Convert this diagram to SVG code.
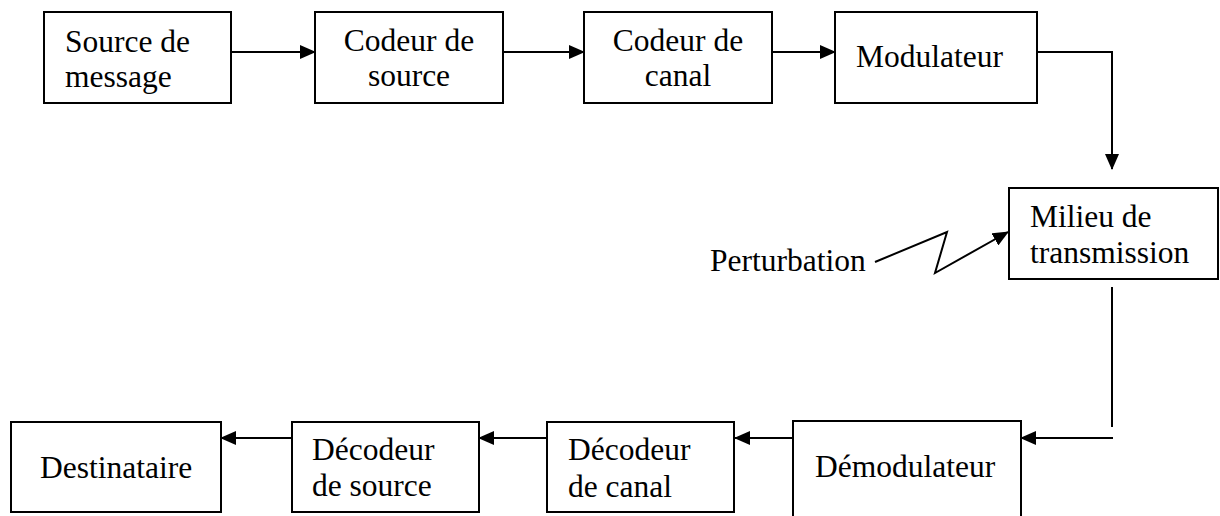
<svg xmlns="http://www.w3.org/2000/svg" width="1220" height="516" viewBox="0 0 1220 516">
<style>
.box{fill:#fff;stroke:#000;stroke-width:2}
.t{font-family:'Liberation Serif','Times New Roman','DejaVu Serif',serif;font-size:31.5px;fill:#000}
.c{text-anchor:middle}
.ln{fill:none;stroke:#000;stroke-width:2}
</style>
<defs>
<marker id="ah" markerWidth="16" markerHeight="14" refX="15" refY="7" orient="auto" markerUnits="userSpaceOnUse">
<path d="M0,0 L16,7 L0,14 Z" fill="#000"/>
</marker>
</defs>
<rect width="1220" height="516" fill="#fff"/>
<g id="connectors">
<line class="ln" x1="231" y1="52" x2="315" y2="52" marker-end="url(#ah)"/>
<line class="ln" x1="503" y1="52" x2="584" y2="52" marker-end="url(#ah)"/>
<line class="ln" x1="772" y1="52" x2="835" y2="52" marker-end="url(#ah)"/>
<polyline class="ln" points="1037,52 1112,52 1112,169" marker-end="url(#ah)"/>
<polyline class="ln" points="875,262 947,232 935,273 1008,232" marker-end="url(#ah)"/>
<line class="ln" x1="1112" y1="287" x2="1112" y2="427"/>
<line class="ln" x1="1113" y1="438" x2="1021" y2="438" marker-end="url(#ah)"/>
<line class="ln" x1="793" y1="438" x2="735" y2="438" marker-end="url(#ah)"/>
<line class="ln" x1="547" y1="438" x2="479" y2="438" marker-end="url(#ah)"/>
<line class="ln" x1="292" y1="438" x2="221" y2="438" marker-end="url(#ah)"/>
</g>
<g id="source-message">
<rect class="box" x="44" y="12" width="187" height="91"/>
<text class="t" x="65" y="52">Source de</text>
<text class="t" x="65" y="87">message</text>
</g>
<g id="codeur-source">
<rect class="box" x="315" y="12" width="188" height="91"/>
<text class="t c" x="409" y="51">Codeur de</text>
<text class="t c" x="409" y="86">source</text>
</g>
<g id="codeur-canal">
<rect class="box" x="584" y="12" width="188" height="91"/>
<text class="t c" x="678" y="51">Codeur de</text>
<text class="t c" x="678" y="86">canal</text>
</g>
<g id="modulateur">
<rect class="box" x="835" y="12" width="202" height="91"/>
<text class="t" x="856" y="67">Modulateur</text>
</g>
<g id="milieu">
<rect class="box" x="1009" y="188" width="209" height="91"/>
<text class="t" x="1030" y="227">Milieu de</text>
<text class="t" x="1030" y="263">transmission</text>
</g>
<g id="perturbation">
<text class="t" x="710" y="271">Perturbation</text>
</g>
<g id="demodulateur">
<rect class="box" x="793" y="421" width="228" height="110"/>
<text class="t" x="815" y="477">Démodulateur</text>
</g>
<g id="decodeur-canal">
<rect class="box" x="547" y="422" width="187" height="90"/>
<text class="t" x="568" y="460">Décodeur</text>
<text class="t" x="568" y="497">de canal</text>
</g>
<g id="decodeur-source">
<rect class="box" x="292" y="422" width="187" height="90"/>
<text class="t" x="312" y="460">Décodeur</text>
<text class="t" x="312" y="496">de source</text>
</g>
<g id="destinataire">
<rect class="box" x="11" y="422" width="210" height="90"/>
<text class="t" x="40" y="478">Destinataire</text>
</g>
</svg>
